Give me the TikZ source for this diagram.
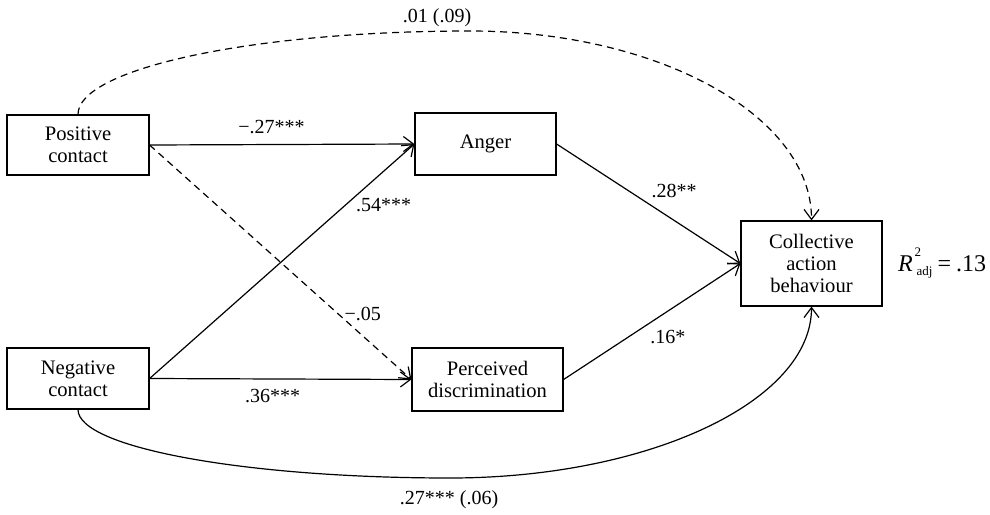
\documentclass[tikz,border=0pt]{standalone}
\usepackage{fontspec}
\setmainfont{Liberation Serif}
\usetikzlibrary{arrows.meta,positioning}

\begin{document}
\begin{tikzpicture}[x=0.5pt,y=-0.5pt,
        >={Straight Barb[length=5pt,width=7.5pt]},
        var/.style={draw,line width=0.6pt,align=center,inner sep=0pt,font=\fontsize{10.3}{10.9}\selectfont},
        coef/.style={inner sep=1pt,font=\fontsize{10}{12}\selectfont},
        eff/.style={->,line width=0.6pt},
        nseff/.style={eff,dash pattern=on 3.5pt off 2.5pt}]
            \useasboundingbox (0,0) rectangle (990,514);
            \node[var,minimum width=71pt,minimum height=30pt] (pos) at (78,145) {Positive\\contact};
            \node[var,minimum width=71pt,minimum height=30.5pt] (neg) at (78,378.5) {Negative\\contact};
            \node[var,minimum width=70.5pt,minimum height=31pt] (ang) at (485.5,144) {Anger};
            \node[var,minimum width=75.5pt,minimum height=31.5pt] (disc) at (487.5,379.5) {Perceived\\discrimination};
            \node[var,minimum width=70.5pt,minimum height=42.5pt] (coll) at (811.5,263.5) {Collective\\action\\behaviour};
            \node[inner sep=0pt,right=7.5pt of coll,font=\fontsize{12}{14}\selectfont] (rsq)
                {\textit{R}\rlap{\hspace{1pt}\raisebox{7.5pt}{\fontsize{6.5}{8}\selectfont 2}}\hspace{2pt}\raisebox{-2pt}{\fontsize{6.5}{8}\selectfont adj}\hspace{2.5pt}=\hspace{2.5pt}.13};
            \coordinate (toparc) at (470,31);
            \coordinate (botarc) at (450,478);
            \draw[eff] (pos.east) -- node[coef,pos=0.46,above=4pt] {−.27***} (ang.west);
            \draw[eff] (neg.east) -- node[coef,pos=0.74,right=4pt] {.54***} (ang.west);
            \draw[nseff] (pos.east) -- node[coef,pos=0.72,right=2pt] {−.05} (disc.west);
            \draw[eff] (neg.east) -- node[coef,pos=0.47,below=4pt] {.36***} (disc.west);
            \draw[eff] (ang.east) -- node[coef,pos=0.64,above=10pt] {.28**} (coll.west);
            \draw[eff] (disc.east) -- node[coef,pos=0.59,below=8.5pt] {.16*} (coll.west);
            \draw[nseff] (pos.north) .. controls +(0,-46) and +(-216,0) .. (toparc)
                .. controls +(188,0) and +(0,-105) .. (coll.north);
            \draw[eff] (neg.south) .. controls +(0,38) and +(-205,0) .. (botarc)
                .. controls +(198,0) and +(0,95) .. (coll.south);
            \node[coef] (dirpos) at (437,18) {.01 (.09)};
            \node[coef] (dirneg) at (449,500) {.27*** (.06)};
        \end{tikzpicture}
\end{document}
